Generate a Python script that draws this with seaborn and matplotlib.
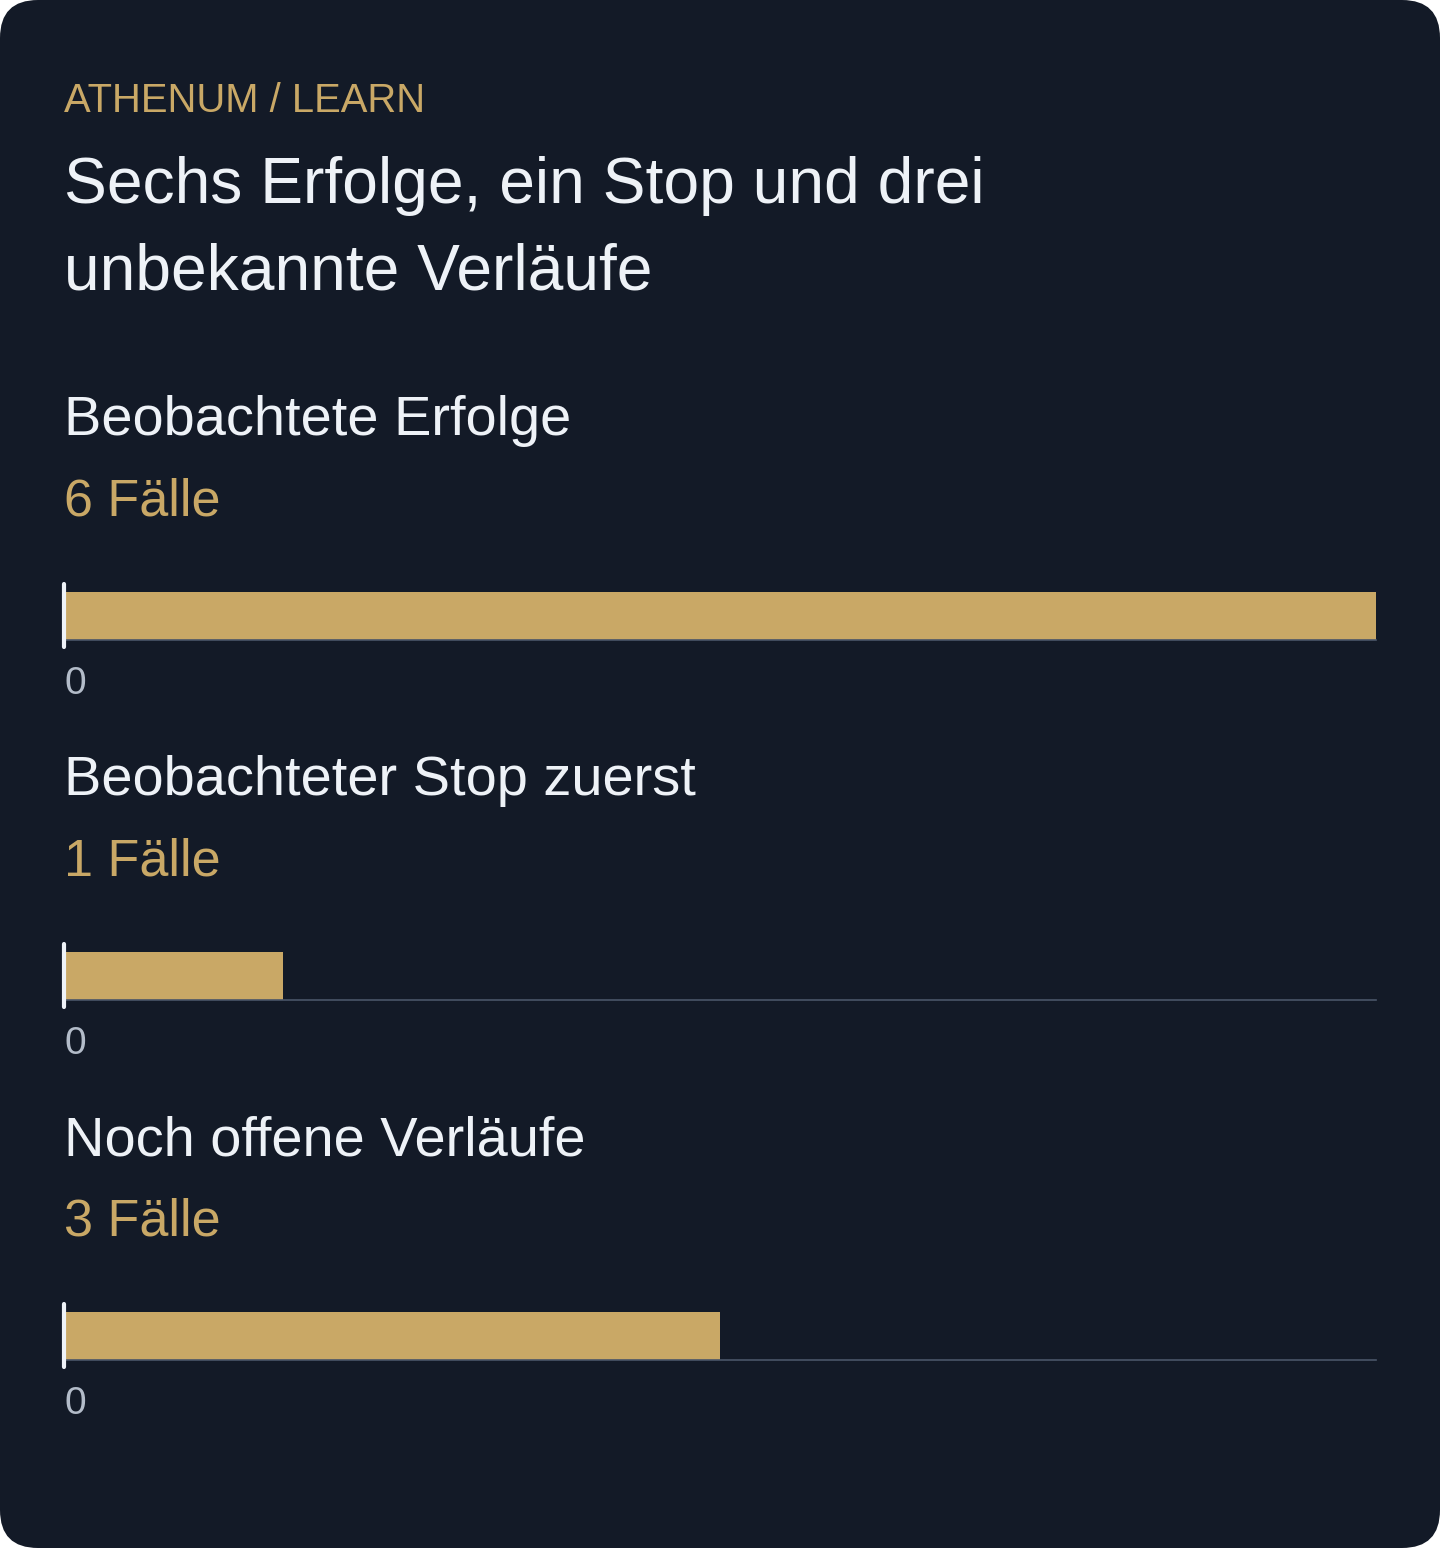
import numpy as np
import pandas as pd
import matplotlib.pyplot as plt
from matplotlib.patches import FancyBboxPatch
import seaborn as sns

# Daten
kicker = "ATHENUM / LEARN"
title_lines = ["Sechs Erfolge, ein Stop und drei", "unbekannte Verläufe"]
categories = ["Beobachtete Erfolge", "Beobachteter Stop zuerst", "Noch offene Verläufe"]
counts = [6, 1, 3]
unit = "Fälle"

# Farben
BG = "#131a27"
GOLD = "#c9a866"
WHITE = "#eef2f7"
TICK = "#b3bcc9"
AXIS = "#4a5568"

sns.set_style("dark", {"axes.facecolor": BG, "figure.facecolor": "white"})
plt.rcParams['font.family'] = ['Liberation Sans', 'DejaVu Sans']

W, H = 1440, 1548
fig = plt.figure(figsize=(W / 100, H / 100), dpi=100)

# Hintergrundkarte mit runden Ecken
bg = fig.add_axes([0, 0, 1, 1])
bg.set_xlim(0, W)
bg.set_ylim(H, 0)
bg.axis("off")
bg.add_patch(FancyBboxPatch((0, 0), W, H, boxstyle="round,pad=0,rounding_size=38",
                            facecolor=BG, edgecolor="none"))

def fy(px):
    return 1 - px / H

left = 64
fig.text(left / W, fy(112), kicker, color=GOLD, fontsize=28.8, va="baseline")
for k, line in enumerate(title_lines):
    fig.text(left / W, fy(203 + 86 * k), line, color=WHITE, fontsize=46.2, va="baseline")

xmax = max(counts)
step = 360
for i, (cat, n) in enumerate(zip(categories, counts)):
    off = step * i
    fig.text(left / W, fy(435 + off), cat, color=WHITE, fontsize=40.3, va="baseline")
    fig.text(left / W, fy(516 + off), f"{n} {unit}", color=GOLD, fontsize=37.5, va="baseline")

    bar_top, bar_bot = 592 + off, 640 + off
    ax = fig.add_axes([left / W, fy(bar_bot), 1312 / W, (bar_bot - bar_top) / H])
    df = pd.DataFrame({"kategorie": [cat], "wert": [n]})
    sns.barplot(data=df, x="wert", y="kategorie", orient="h", color=GOLD,
                saturation=1, width=0.8, ax=ax, zorder=2,
                edgecolor="none", linewidth=0)
    ax.set_facecolor(BG)
    ax.set_xlim(0, xmax)
    ax.set_ylim(0.4, -0.4)
    ax.set_xlabel("")
    ax.set_ylabel("")
    ax.set_yticks([])
    ax.set_xticks([0])
    ax.set_xticklabels(["0"], ha="left")
    ax.tick_params(axis="x", length=0, pad=19, labelsize=28, labelcolor=TICK)
    ax.grid(False)
    for s in ["top", "right", "left"]:
        ax.spines[s].set_visible(False)
    ax.spines["bottom"].set_color(AXIS)
    ax.spines["bottom"].set_linewidth(1.2)
    ax.axvline(0, ymin=-7 / 48, ymax=1 + 8 / 48, color=WHITE, lw=3,
               clip_on=False, zorder=5)

fig.savefig("out.png", dpi=100, facecolor="white")
